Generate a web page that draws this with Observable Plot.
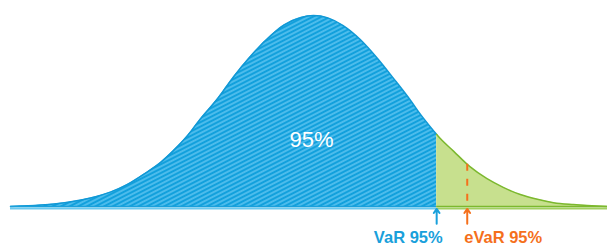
<!DOCTYPE html>
<html>
<head>
<meta charset="utf-8">
<script src="https://cdn.jsdelivr.net/npm/d3@7"></script>
<script src="https://cdn.jsdelivr.net/npm/@observablehq/plot@0.6"></script>
<style>
  html, body { margin: 0; padding: 0; background: #fff; }
  #chart svg { display: block; }
</style>
</head>
<body>
<div id="chart"></div>
<script>
// Return (in standard deviations)
const returns = [-3.37, -3.03, -2.73, -2.48, -2.26, -2.07, -1.89, -1.70, -1.56, -1.40,
  -1.26, -1.07, -0.89, -0.70, -0.51, -0.33, -0.14, 0.00, 0.16, 0.33,
  0.52, 0.71, 0.89, 1.08, 1.19, 1.30, 1.38, 1.56, 1.74, 1.93,
  2.11, 2.30, 2.49, 2.67, 2.89, 3.27];
// Density height
const density = [0.002, 0.005, 0.011, 0.020, 0.032, 0.048, 0.069, 0.094, 0.118, 0.150,
  0.184, 0.226, 0.272, 0.315, 0.352, 0.380, 0.396, 0.400, 0.395, 0.379,
  0.350, 0.311, 0.269, 0.223, 0.194, 0.168, 0.150, 0.117, 0.085, 0.060,
  0.042, 0.027, 0.017, 0.010, 0.006, 0.002];
const varLevel = 1.37;   // VaR 95%
const evarLevel = 1.71;  // eVaR 95%
const centerLabel = "95%";
const varLabel = "VaR 95%";
const evarLabel = "eVaR 95%";

const pts = returns.map((x, i) => ({x, y: density[i]}));
function densAt(v) {
  for (let i = 0; i < pts.length - 1; i++) {
    if (pts[i].x <= v && v <= pts[i + 1].x) {
      const t = (v - pts[i].x) / (pts[i + 1].x - pts[i].x);
      return pts[i].y + t * (pts[i + 1].y - pts[i].y);
    }
  }
  return 0;
}
const cut = {x: varLevel, y: densAt(varLevel)};
const left = pts.filter(d => d.x < varLevel).concat([cut]);
const right = [cut].concat(pts.filter(d => d.x > varLevel));

const BLUE = "#19a0db", GREEN = "#7cb82f", ORANGE = "#f5701c";
const font = "'Liberation Sans', Arial, sans-serif";
const curve = "monotone-x";

const chart = Plot.plot({
  width: 607, height: 246,
  marginLeft: 10, marginRight: 0, marginTop: 15, marginBottom: 39,
  style: {fontFamily: font, background: "#fff"},
  x: {domain: [returns[0], returns[returns.length - 1]], axis: null},
  y: {domain: [0, 0.4], axis: null},
  marks: [
    Plot.areaY(left, {x: "x", y: "y", fill: "url(#hatch)", curve}),
    Plot.lineY(left, {x: "x", y: "y", stroke: "#1198d5", strokeWidth: 1.5, curve}),
    Plot.areaY(right, {x: "x", y: "y", fill: "#c7e08e", curve}),
    Plot.lineY(right, {x: "x", y: "y", stroke: GREEN, strokeWidth: 1.5, curve}),
    Plot.ruleY([{y: 0, a: returns[0], b: varLevel}], {y: "y", x1: "a", x2: "b", stroke: "#6cc9ef", strokeWidth: 2, dy: 1}),
    Plot.ruleY([{y: 0, a: returns[0], b: varLevel}], {y: "y", x1: "a", x2: "b", stroke: BLUE, strokeWidth: 1.5, dy: -1}),
    Plot.ruleY([{y: 0, a: varLevel, b: returns[returns.length - 1]}], {y: "y", x1: "a", x2: "b", stroke: "#a2d061", strokeWidth: 2, dy: 1}),
    Plot.ruleY([{y: 0, a: varLevel, b: returns[returns.length - 1]}], {y: "y", x1: "a", x2: "b", stroke: GREEN, strokeWidth: 1.5, dy: -1}),
    Plot.ruleX([{x: evarLevel, top: densAt(evarLevel)}], {x: "x", y1: "top", y2: () => 0.002, stroke: ORANGE, strokeWidth: 2, strokeDasharray: "7,8"}),
    Plot.arrow([{x: varLevel}], {x1: "x", x2: "x", y1: () => -0.034, y2: () => -0.003, stroke: BLUE, strokeWidth: 2, headLength: 7, headAngle: 70}),
    Plot.arrow([{x: evarLevel}], {x1: "x", x2: "x", y1: () => -0.034, y2: () => -0.003, stroke: ORANGE, strokeWidth: 2, headLength: 7, headAngle: 70}),
    Plot.text([{x: 0, t: centerLabel}], {x: "x", y: () => 0.14, text: "t", dx: -2, fill: "#fff", fontSize: 22, fontFamily: font}),
    Plot.text([{x: varLevel, t: varLabel}], {x: "x", y: () => 0, text: "t", dy: 30, dx: 6, textAnchor: "end", fill: BLUE, fontSize: 16.5, fontWeight: "bold", fontFamily: font}),
    Plot.text([{x: evarLevel, t: evarLabel}], {x: "x", y: () => 0, text: "t", dy: 30, dx: -3, textAnchor: "start", fill: ORANGE, fontSize: 16.5, fontWeight: "bold", fontFamily: font})
  ]
});

d3.select(chart).insert("defs", ":first-child").html(
  `<pattern id="hatch" patternUnits="userSpaceOnUse" width="10" height="3.9" patternTransform="rotate(-27)">
     <rect width="10" height="3.9" fill="#4cbcec"/>
     <rect width="10" height="1.95" fill="#12a0dc"/>
   </pattern>`
);
document.getElementById("chart").appendChild(chart);
</script>
</body>
</html>
